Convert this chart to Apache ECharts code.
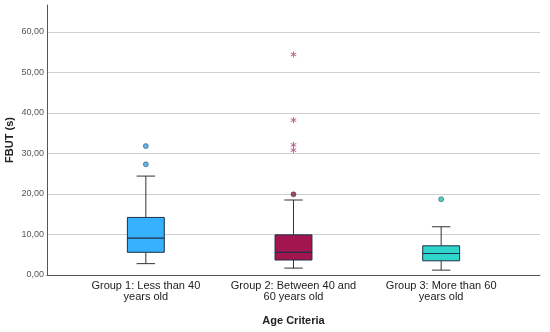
<!DOCTYPE html>
<html><head><meta charset="utf-8">
<script src="https://cdn.jsdelivr.net/npm/echarts@6/dist/echarts.min.js"></script>
<style>html,body{margin:0;padding:0;background:#fff}#c{width:550px;height:332px}</style>
</head><body><div id="c"></div>
<script>
const categories = ['Group 1: Less than 40\nyears old', 'Group 2: Between 40 and\n60 years old', 'Group 3: More than 60\nyears old'];
// [min whisker, Q1, median, Q3, max whisker]
const boxStats = [
  [2.8, 5.6, 9.1, 14.2, 24.4],
  [1.7, 3.7, 5.6, 9.9, 18.5],
  [1.2, 3.5, 5.3, 7.2, 11.9]
];
const outliers = [[0, 31.8], [0, 27.3], [1, 19.9], [2, 18.7]];
const extremes = [[1, 54.4], [1, 38.2], [1, 32.1], [1, 30.8]];
const boxColors = ['#35b1fd', '#a3154f', '#2fd6cc'];
const outlierColors = ['#3aa0e6', '#8e1a45', '#27c2b8'];
const yTicks = [0, 10, 20, 30, 40, 50, 60];
const yMax = 66.6;

const chart = echarts.init(document.getElementById('c'), null, {renderer: 'canvas'});
const font = 'Liberation Sans, Arial, sans-serif';
const boxData = boxStats.map((s, i) => [i].concat(s));

chart.setOption({
  animation: false,
  backgroundColor: '#fff',
  grid: [
    {left: 47, right: 10, top: 5, bottom: 57, containLabel: false, outerBoundsMode: 'none'},
    {left: 72, width: 443, top: 5, bottom: 57, containLabel: false, outerBoundsMode: 'none'}
  ],
  xAxis: [
    {gridIndex: 0, type: 'value', min: 0, max: 1, axisLine: {show: true, lineStyle: {color: '#555', width: 1}},
     axisTick: {show: false}, axisLabel: {show: false}, splitLine: {show: false}},
    {gridIndex: 1, type: 'category', data: categories, boundaryGap: true,
     axisLine: {show: false}, axisTick: {show: false},
     axisLabel: {color: '#222', fontSize: 11, fontFamily: font, margin: 5, lineHeight: 11, interval: 0},
     name: 'Age Criteria', nameLocation: 'middle', nameGap: 40, nameMoveOverlap: false,
     nameTextStyle: {color: '#222', fontSize: 11, fontWeight: 'bold', fontFamily: font}}
  ],
  yAxis: [
    {gridIndex: 0, type: 'value', min: 0, max: yMax, interval: 10,
     axisLine: {show: true, lineStyle: {color: '#555', width: 1}}, axisTick: {show: false},
     axisLabel: {color: '#555', fontSize: 9, fontFamily: font, margin: 3, showMaxLabel: false,
       formatter: v => yTicks.indexOf(v) >= 0 ? v.toFixed(2).replace('.', ',') : ''},
     splitLine: {show: true, showMaxLine: false, showMinLine: false, lineStyle: {color: '#cfcfcf', width: 1}},
     name: 'FBUT (s)', nameLocation: 'middle', nameGap: 32, nameMoveOverlap: false,
     nameTextStyle: {color: '#222', fontSize: 11, fontWeight: 'bold', fontFamily: font}},
    {gridIndex: 1, type: 'value', min: 0, max: yMax, show: false}
  ],
  series: [
    {
      type: 'custom', xAxisIndex: 1, yAxisIndex: 1, data: boxData,
      renderItem: function (params, api) {
        const x = api.value(0);
        const band = api.size([1, 0])[0];
        const bw = band * 0.25;
        const cw = bw * 0.5;
        const c = api.coord([x, 0])[0];
        const y = v => api.coord([x, v])[1];
        const lo = y(api.value(1)), q1 = y(api.value(2)), med = y(api.value(3)), q3 = y(api.value(4)), hi = y(api.value(5));
        const ls = {stroke: '#333', lineWidth: 1};
        const col = boxColors[params.dataIndex];
        return {type: 'group', children: [
          {type: 'line', shape: {x1: c, y1: hi, x2: c, y2: q3}, style: ls},
          {type: 'line', shape: {x1: c, y1: q1, x2: c, y2: lo}, style: ls},
          {type: 'line', shape: {x1: c - cw / 2, y1: hi, x2: c + cw / 2, y2: hi}, style: ls},
          {type: 'line', shape: {x1: c - cw / 2, y1: lo, x2: c + cw / 2, y2: lo}, style: ls},
          {type: 'rect', shape: {x: c - bw / 2, y: q3, width: bw, height: q1 - q3}, style: {fill: col, stroke: '#1f2f45', lineWidth: 1}},
          {type: 'line', shape: {x1: c - bw / 2, y1: med, x2: c + bw / 2, y2: med}, style: {stroke: '#1f2f45', lineWidth: 1.2}}
        ]};
      }
    },
    {
      type: 'scatter', xAxisIndex: 1, yAxisIndex: 1, data: outliers, symbol: 'circle', symbolSize: 5,
      itemStyle: {color: p => outlierColors[p.data[0]], borderColor: '#234', borderWidth: 0.6}
    },
    {
      type: 'scatter', xAxisIndex: 1, yAxisIndex: 1, data: extremes, symbolSize: 6,
      symbol: 'path://M4.3,0 L5.7,0 L5.7,3.6 L8.8,1.8 L9.5,3 L6.4,4.8 L6.4,5.2 L9.5,7 L8.8,8.2 L5.7,6.4 L5.7,10 L4.3,10 L4.3,6.4 L1.2,8.2 L0.5,7 L3.6,5.2 L3.6,4.8 L0.5,3 L1.2,1.8 L4.3,3.6 Z',
      itemStyle: {color: '#a93a6e'}
    }
  ]
});
</script></body></html>
